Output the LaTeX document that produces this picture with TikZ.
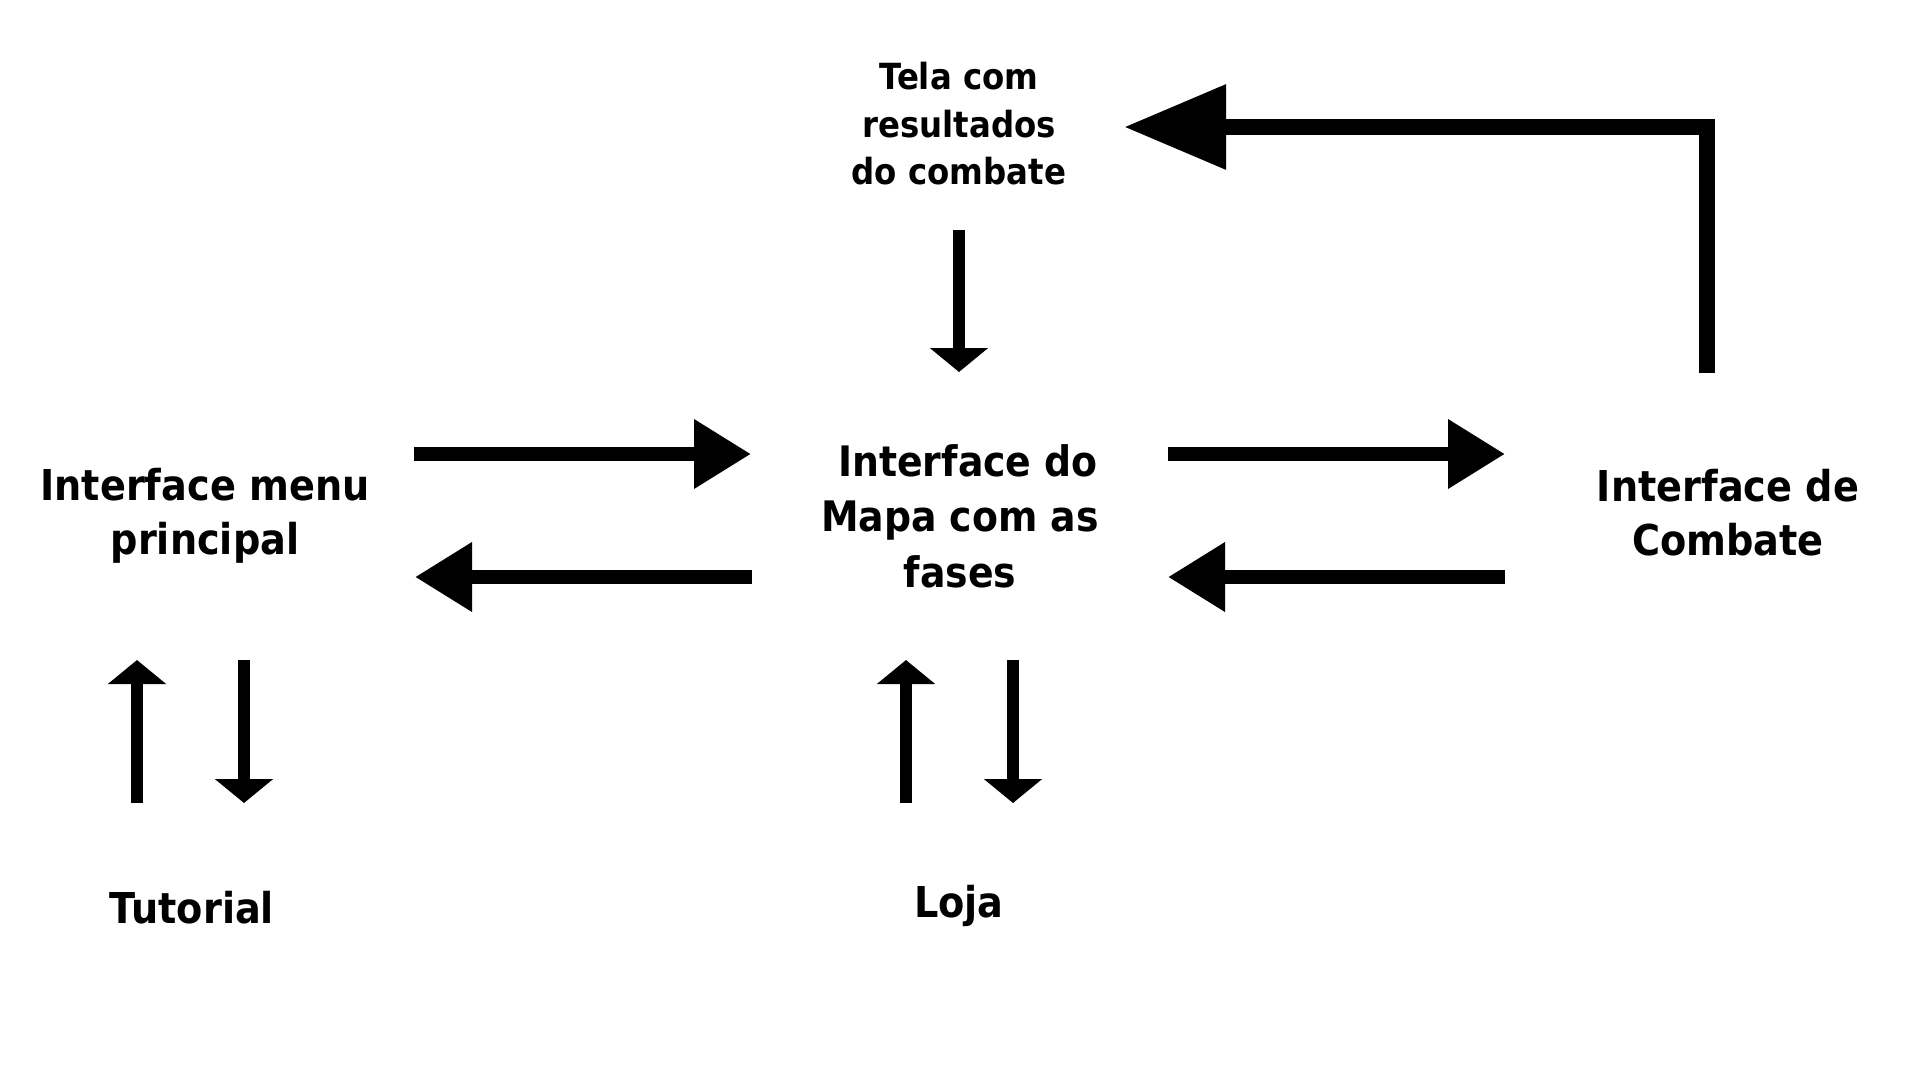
\documentclass[tikz,border=0pt]{standalone}
\usepackage{fontspec}
\setmainfont{DejaVu Sans Condensed}
\usetikzlibrary{arrows.meta}
\begin{document}
\begin{tikzpicture}[x=1pt,y=-1pt,
  lbl/.style={inner sep=0pt, align=center, font=\bfseries\fontsize{42.5}{54}\selectfont},
  smalllbl/.style={inner sep=0pt, align=center, font=\bfseries\fontsize{36}{47.5}\selectfont},
  bigarrow/.style={line width=13.5pt, -{Triangle[length=57pt,width=66pt]}},
  smallarrow/.style={line width=12pt, -{Triangle[length=24pt,width=57pt]}},
  toparrow/.style={line width=16pt, line join=miter, -{Triangle[length=102pt,width=81pt]}}]
\fill[white] (0,0) rectangle (1920,1080);
\useasboundingbox (0,0) rectangle (1920,1080);

% nodes
\node[smalllbl] (tela) at (959,124) {Tela com\\resultados\\do combate};
\node[lbl] (menu) at (205,516) {Interface menu\\principal};
\node[lbl, font=\bfseries\fontsize{42}{55.5}\selectfont] (mapa) at (960,516) {\hspace*{16pt}Interface do\\Mapa com as\\fases};
\node[lbl] (combate) at (1728,513) {Interface de\\Combate};
\node[lbl] (tutorial) at (192,908) {Tutorial};
\node[lbl] (loja) at (959,906) {Loja};

% connector end points
\coordinate (a1s) at (414,454);  \coordinate (a1e) at (751,454);
\coordinate (a2s) at (752,577);  \coordinate (a2e) at (415,577);
\coordinate (a3s) at (1168,454); \coordinate (a3e) at (1505,454);
\coordinate (a4s) at (1505,577); \coordinate (a4e) at (1168,577);
\coordinate (ts) at (1707,373);  \coordinate (tc) at (1707,127); \coordinate (te) at (1124,127);
\coordinate (ds) at (959,230);   \coordinate (de) at (959,372);
\coordinate (tus) at (137,803);  \coordinate (tue) at (137,660);
\coordinate (tds) at (244,660);  \coordinate (tde) at (244,803);
\coordinate (lus) at (906,803);  \coordinate (lue) at (906,660);
\coordinate (lds) at (1013,660); \coordinate (lde) at (1013,803);

% connectors
\draw[bigarrow] (a1s) -- (a1e);
\draw[bigarrow] (a2s) -- (a2e);
\draw[bigarrow] (a3s) -- (a3e);
\draw[bigarrow] (a4s) -- (a4e);
\draw[toparrow] (ts) -- (tc) -- (te);
\draw[smallarrow] (ds) -- (de);
\draw[smallarrow] (tus) -- (tue);
\draw[smallarrow] (tds) -- (tde);
\draw[smallarrow] (lus) -- (lue);
\draw[smallarrow] (lds) -- (lde);
\end{tikzpicture}
\end{document}
